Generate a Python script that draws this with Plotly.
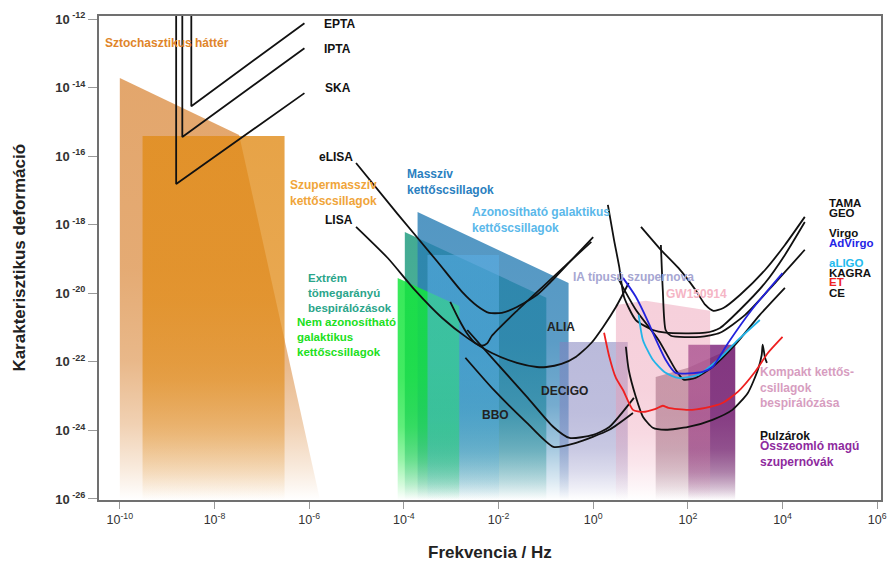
import plotly.graph_objects as go

# ---------------- axes (log10 units) ----------------
X_RANGE = [-10.44, 6.08]
Y_RANGE = [-26.03, -11.91]
FLOOR = Y_RANGE[0]

x_tick_exp = [-10, -8, -6, -4, -2, 0, 2, 4, 6]
y_tick_exp = [-26, -24, -22, -20, -18, -16, -14, -12]

# ---------------- source regions: top outline, log10 f [Hz], log10 h ----------------
stoch_f = [-10.0, -7.48, -5.77]
stoch_h = [-13.72, -15.38, -26.03]
smbh_f = [-9.52, -6.52]
smbh_h = [-15.41, -15.41]
emri_f = [-3.98, -0.99]
emri_h = [-18.21, -20.13]
massive_f = [-3.71, -0.52]
massive_h = [-17.63, -19.70]
unres_f = [-4.13, -2.83]
unres_h = [-19.55, -20.37]
resolv_f = [-3.50, -1.99]
resolv_h = [-18.88, -18.88]
sn1a_f = [-0.71, 0.73]
sn1a_h = [-21.42, -21.42]
compact_f = [1.32, 2.01, 3.00]
compact_h = [-22.44, -22.17, -21.56]
ccsn_f = [2.01, 3.00]
ccsn_h = [-21.50, -21.50]
gw150914_f = [0.48, 1.11, 2.47]
gw150914_h = [-20.34, -20.22, -20.51]

# ---------------- detector sensitivity curves ----------------
epta_f = [-8.49, -8.49, -6.10]
epta_h = [-11.0, -14.54, -12.12]
ipta_f = [-8.68, -8.68, -6.10]
ipta_h = [-11.0, -15.44, -12.85]
ska_f = [-8.81, -8.81, -6.10]
ska_h = [-11.0, -16.81, -14.16]

elisa_f = [-5.01, -4.13, -3.29, -2.77, -2.45, -2.20, -1.93, -1.61, -1.19, -0.92, -0.46, 0.0]
elisa_h = [-16.20, -17.69, -19.08, -19.96, -20.37, -20.57, -20.57, -20.40, -20.05, -19.70, -19.03, -18.36]
lisa_f = [-5.01, -4.34, -3.77, -3.19, -2.66, -2.14, -1.61, -1.19, -0.99, -0.67, -0.36, -0.04, 0.21, 0.48, 0.75]
lisa_h = [-18.06, -18.97, -19.90, -20.72, -21.30, -21.74, -22.03, -22.15, -22.15, -22.06, -21.85, -21.45, -20.98, -20.40, -19.70]
alia_f = [-3.02, -2.83, -2.66, -2.49, -2.35, -2.24, -2.14, -1.61, -1.09, -0.57, -0.04]
alia_h = [-20.25, -20.78, -21.18, -21.45, -21.53, -21.46, -21.24, -20.51, -19.84, -19.17, -18.50]
decigo_f = [-2.66, -2.10, -1.40, -0.84, -0.50, 0.0, 0.34, 0.86]
decigo_h = [-21.07, -21.94, -23.02, -23.90, -24.22, -24.13, -23.90, -23.05]
bbo_f = [-2.70, -2.10, -1.40, -0.84, -0.36, 0.34, 0.84]
bbo_h = [-21.88, -22.82, -23.78, -24.48, -24.36, -23.98, -23.49]

tama_f = [1.01, 1.43, 1.80, 2.16, 2.37, 2.54, 2.75, 3.10, 3.63, 4.05, 4.47]
tama_h = [-18.06, -18.73, -19.26, -19.90, -20.34, -20.51, -20.43, -20.05, -19.32, -18.59, -17.77]
geo_f = [0.31, 0.44, 0.55, 0.65, 0.90, 1.26, 1.53, 2.37, 2.68, 3.10, 3.63, 4.05, 4.47]
geo_h = [-17.42, -18.44, -19.23, -20.10, -20.78, -21.07, -21.15, -21.15, -21.01, -20.48, -19.70, -18.88, -17.92]
virgo_f = [1.43, 1.47, 1.53, 1.64, 2.26, 2.68, 3.21, 3.84, 4.47]
virgo_h = [-18.59, -19.90, -21.07, -21.24, -21.27, -21.15, -20.63, -19.70, -18.73]
advirgo_f = [0.63, 0.90, 1.17, 1.26, 1.53, 1.74, 2.31, 2.52, 2.85, 3.35, 4.00]
advirgo_h = [-19.55, -20.10, -20.86, -21.15, -21.94, -22.32, -22.29, -22.15, -21.45, -20.48, -19.41]
aligo_f = [0.96, 1.05, 1.26, 1.53, 1.80, 2.22, 2.64, 3.06, 3.52]
aligo_h = [-20.63, -21.36, -21.94, -22.32, -22.47, -22.38, -21.94, -21.36, -20.78]
kagra_f = [0.52, 0.90, 1.38, 1.74, 1.91, 2.16, 2.52, 3.00, 3.52, 4.05]
kagra_h = [-19.55, -20.48, -21.36, -22.23, -22.52, -22.47, -22.15, -21.50, -20.63, -19.84]
et_f = [0.23, 0.34, 0.48, 0.63, 0.84, 1.05, 1.32, 1.47, 1.59, 2.01, 2.37, 2.73, 3.06, 3.42, 3.69, 4.00]
et_h = [-21.15, -21.85, -22.47, -22.82, -23.40, -23.46, -23.37, -23.28, -23.34, -23.40, -23.34, -23.20, -22.87, -22.29, -21.74, -21.27]
ce_f = [0.69, 0.75, 0.90, 1.05, 1.26, 1.53, 2.01, 2.52, 2.94, 3.27, 3.48, 3.56, 3.58, 3.63, 3.67]
ce_h = [-21.56, -22.23, -23.02, -23.60, -23.92, -23.98, -23.90, -23.69, -23.40, -22.90, -22.23, -21.80, -21.50, -21.88, -22.03]

FONT = "Liberation Sans, Arial, sans-serif"
fig = go.Figure()


def fade_scale(rgb, a):
    r, g, b = rgb
    prof = [(0.0, 0.0), (0.07, 0.22), (0.18, 0.52), (0.33, 0.8), (0.55, 0.95), (1.0, 1.0)]
    return [[p, f"rgba({r},{g},{b},{a * m:.3f})"] for p, m in prof]


def add_region(f, h, rgb, a):
    xs = list(f) + [f[-1], f[0], f[0]]
    ys = list(h) + [FLOOR, FLOOR, h[0]]
    fig.add_trace(go.Scatter(
        x=xs, y=ys, mode="lines", line=dict(width=0), fill="toself",
        fillgradient=dict(type="vertical", colorscale=fade_scale(rgb, a)),
        hoverinfo="skip", showlegend=False))


add_region(stoch_f, stoch_h, (215, 128, 45), 0.70)
add_region(smbh_f, smbh_h, (225, 140, 25), 0.80)
add_region(emri_f, emri_h, (20, 150, 120), 0.80)
add_region(massive_f, massive_h, (40, 125, 180), 0.80)
add_region(unres_f, unres_h, (20, 230, 60), 0.85)
add_region(resolv_f, resolv_h, (90, 175, 230), 0.55)
add_region(sn1a_f, sn1a_h, (130, 130, 190), 0.55)
add_region(compact_f, compact_h, (120, 80, 100), 0.60)
add_region(ccsn_f, ccsn_h, (120, 30, 120), 0.80)
add_region(gw150914_f, gw150914_h, (235, 150, 175), 0.45)


def add_curve(f, h, color, smooth=True, width=1.8):
    fig.add_trace(go.Scatter(
        x=f, y=h, mode="lines",
        line=dict(color=color, width=width, shape="spline" if smooth else "linear",
                  smoothing=0.6),
        hoverinfo="skip", showlegend=False))


BLACK = "#111111"
for f, h in [(epta_f, epta_h), (ipta_f, ipta_h), (ska_f, ska_h)]:
    add_curve(f, h, BLACK, smooth=False)
for f, h in [(elisa_f, elisa_h), (lisa_f, lisa_h), (alia_f, alia_h), (decigo_f, decigo_h),
             (bbo_f, bbo_h), (tama_f, tama_h), (geo_f, geo_h), (virgo_f, virgo_h),
             (kagra_f, kagra_h), (ce_f, ce_h)]:
    add_curve(f, h, BLACK)
add_curve(aligo_f, aligo_h, "#22B4E8")
add_curve(advirgo_f, advirgo_h, "#2222DD")
add_curve(et_f, et_h, "#EE2020")

# ---------------- labels ----------------
labels = [
    ("Sztochasztikus háttér", -10.36, -12.70, "#E0852A", 12),
    ("EPTA", -5.72, -12.15, "#111111", 12),
    ("IPTA", -5.72, -12.87, "#111111", 12),
    ("SKA", -5.70, -14.01, "#111111", 12),
    ("eLISA", -5.83, -16.02, "#111111", 12),
    ("LISA", -5.70, -17.86, "#111111", 12),
    ("Szupermasszív<br>kettőscsillagok", -6.44, -17.06, "#F0A53A", 12),
    ("Masszív<br>kettőscsillagok", -3.98, -16.74, "#2A80C0", 12),
    ("Azonosítható galaktikus<br>kettőscsillagok", -2.60, -17.87, "#5AB8EA", 12),
    ("Extrém<br>tömegarányú<br>bespirálózások", -6.06, -19.99, "#2AA58A", 11.5),
    ("Nem azonosítható<br>galaktikus<br>kettőscsillagok", -6.31, -21.27, "#20E020", 11.5),
    ("IA típusú szupernova", -0.46, -19.52, "#A6A6D2", 12),
    ("GW150914", 1.49, -20.02, "#F5B5C5", 12),
    ("ALIA", -1.01, -20.98, "#222222", 12),
    ("DECIGO", -1.15, -22.85, "#222222", 12),
    ("BBO", -2.39, -23.55, "#222222", 12),
    ("TAMA", 4.93, -17.36, "#111111", 11.5),
    ("GEO", 4.93, -17.66, "#111111", 11.5),
    ("Virgo", 4.93, -18.24, "#111111", 11.5),
    ("AdVirgo", 4.93, -18.53, "#2424E6", 11.5),
    ("aLIGO", 4.93, -19.11, "#22BBEE", 11.5),
    ("KAGRA", 4.93, -19.41, "#111111", 11.5),
    ("ET", 4.93, -19.67, "#EE2222", 11.5),
    ("CE", 4.93, -19.99, "#111111", 11.5),
    ("Kompakt kettős-<br>csillagok<br>bespirálózása", 3.48, -22.76, "#D79DBF", 12),
    ("Pulzárok", 3.48, -24.16, "#111111", 12),
    ("Összeomló magú<br>szupernóvák", 3.48, -24.68, "#8E2A9E", 12),
]
for text, x, y, color, size in labels:
    fig.add_annotation(x=x, y=y, xref="x", yref="y", text=text, showarrow=False,
                       xanchor="left", yanchor="middle", align="left",
                       font=dict(family=FONT, size=size, color=color, weight="bold"))

# axis titles
fig.add_annotation(x=0.5, y=-0.1095, xref="paper", yref="paper", text="Frekvencia / Hz",
                   showarrow=False, xanchor="center", yanchor="middle",
                   font=dict(family=FONT, size=17, color="#222222", weight="bold"))
fig.add_annotation(x=-0.1028, y=0.5, xref="paper", yref="paper", text="Karakterisztikus deformáció",
                   showarrow=False, xanchor="center", yanchor="middle", textangle=-90,
                   font=dict(family=FONT, size=17, color="#222222", weight="bold"))

fig.update_xaxes(range=X_RANGE, tickvals=x_tick_exp,
                 ticktext=[f"10<sup>{e}</sup>" for e in x_tick_exp],
                 showgrid=False, zeroline=False, showline=True, linecolor="#707070",
                 linewidth=2, mirror=True, ticks="outside", ticklen=7, tickcolor="#999999",
                 ticklabeloverflow="allow",
                 tickfont=dict(family=FONT, size=12.5, color="#333333"))
fig.update_yaxes(range=Y_RANGE, tickvals=y_tick_exp,
                 ticktext=[f"10<sup> {e}</sup>" for e in y_tick_exp],
                 showgrid=False, zeroline=False, showline=True, linecolor="#707070",
                 linewidth=2, mirror=True, ticks="outside", ticklen=9, tickcolor="#999999",
                 tickfont=dict(family=FONT, size=13, color="#333333", weight="bold"))

fig.update_layout(width=889, height=563, margin=dict(l=99, r=2, t=16, b=63),
                  paper_bgcolor="white", plot_bgcolor="white", showlegend=False)

fig.write_html("out.html", config={"displayModeBar": False},
               post_script="document.body.style.margin='0';document.body.style.overflow='hidden';")
